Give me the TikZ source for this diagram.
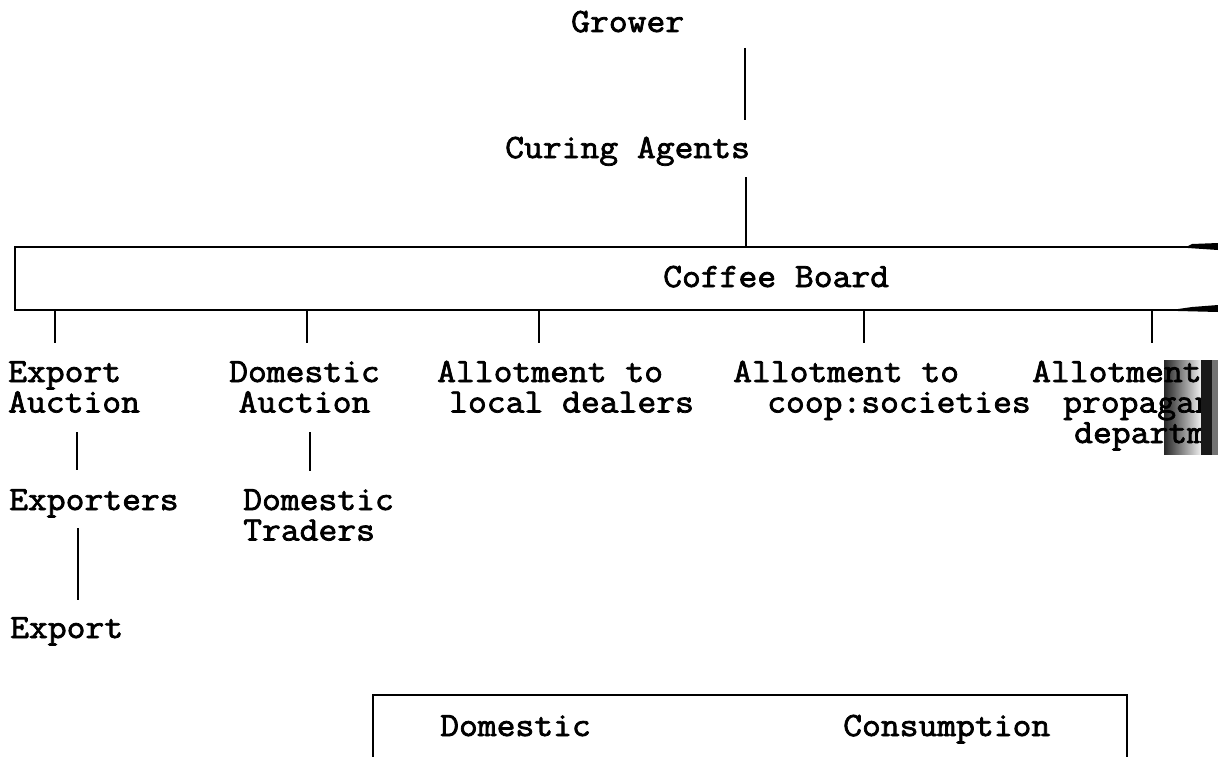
\documentclass[tikz,border=0pt]{standalone}
\usepackage{fontspec}
\newfontfamily\twfont{Latin Modern Mono}[FakeStretch=1.075, FakeBold=2.2]
\usetikzlibrary{fadings}
\begin{document}
\begin{tikzpicture}[x=1pt,y=-1pt,
  lbl/.style={font=\twfont\fontsize{34}{30.5}\selectfont, inner sep=0pt, anchor=base west, align=left},
  clbl/.style={lbl, align=center},
  lnk/.style={line width=2pt, line cap=butt},
  frame/.style={line width=2.2pt}]
\useasboundingbox (0,0) rectangle (1218,757);

% text nodes (multi-line nodes are placed at the baseline of their last line)
\node[lbl] (grower) at (571,32) {Grower};
\node[lbl] (curing) at (505,158) {Curing Agents};
\node[lbl] (boardtxt) at (663,287) {Coffee Board};
\node[lbl] (expauc) at (8,412.5) {Export\\Auction};
\node[clbl] (domauc) at (229,412.5) {Domestic\\Auction};
\node[lbl] (allocal) at (437,412.5) {Allotment to\\\hspace*{12pt}local dealers};
\node[lbl] (allcoop) at (733,412.5) {Allotment to\\\hspace*{34pt}coop:societies};
\node[lbl] (allprop) at (1032,443) {Allotment to\\\hspace*{31pt}propaganda\\\hspace*{42pt}department};
\node[lbl] (exporters) at (9,510) {Exporters};
\node[lbl] (domtr) at (243,540.5) {Domestic\\Traders};
\node[lbl] (export) at (10,638) {Export};
\node[lbl] (dcdom) at (440,736) {Domestic};
\node[lbl] (dccons) at (843,736) {Consumption};

% coffee board frame (runs off the right edge)
\coordinate (bTL) at (15,247);
\coordinate (bBL) at (15,310);
\coordinate (bTR) at (1218,247);
\coordinate (bBR) at (1218,310);
\draw[frame] (bTR) -- (bTL) -- (bBL) -- (bBR);
\fill[black] (1188,246) -- (1192,244) -- (1218,243) -- (1218,250) -- (1188,248) -- cycle;
\fill[black] (1178,309) -- (1192,307) -- (1218,305) -- (1218,312) -- (1178,311) -- cycle;

% domestic consumption frame (runs off the bottom edge)
\coordinate (cBL) at (373,757);
\coordinate (cTL) at (373,695);
\coordinate (cTR) at (1127,695);
\coordinate (cBR) at (1127,757);
\draw[frame] (cBL) -- (cTL) -- (cTR) -- (cBR);

% vertical connectors
\coordinate (g1) at (745,48);  \coordinate (g2) at (745,120);
\coordinate (c1) at (746,177); \coordinate (c2) at (746,247);
\draw[lnk] (g1) -- (g2);
\draw[lnk] (c1) -- (c2);
\foreach \i/\x in {1/55,2/307,3/539,4/864,5/1152}{
  \coordinate (t\i a) at (\x,310);
  \coordinate (t\i b) at (\x,343);
  \draw[lnk] (t\i a) -- (t\i b);
}
\coordinate (e1) at (77,432);  \coordinate (e2) at (77,470);
\coordinate (d1) at (310,432); \coordinate (d2) at (310,471);
\coordinate (x1) at (78,528);  \coordinate (x2) at (78,600);
\draw[lnk] (e1) -- (e2);
\draw[lnk] (d1) -- (d2);
\draw[lnk] (x1) -- (x2);

% scanner smear at the right edge
\fill[black, fill opacity=0.85, path fading=east] (1164,360) rectangle (1204,455);
\fill[black!90] (1201,360) rectangle (1212,455);
\fill[black!55] (1212,360) rectangle (1218,455);
\end{tikzpicture}
\end{document}
